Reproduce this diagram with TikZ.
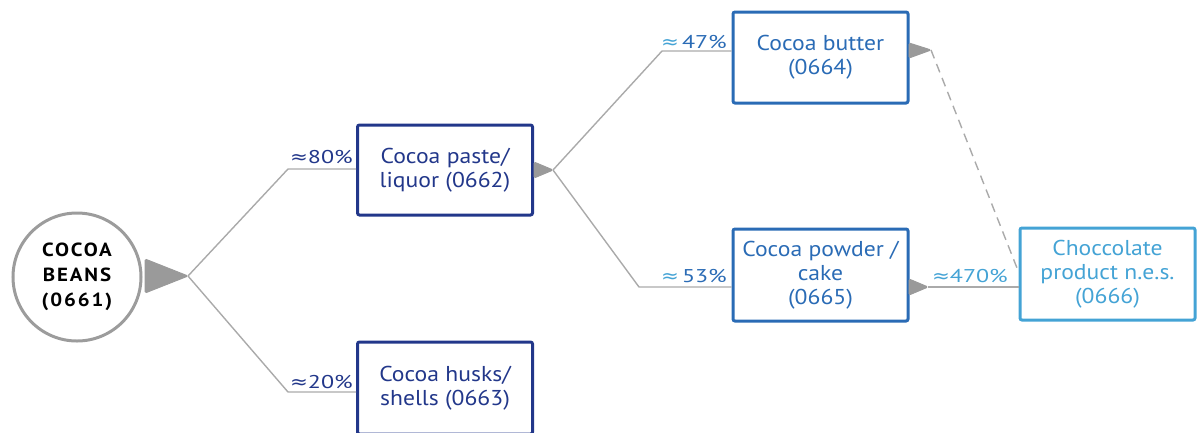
\documentclass[tikz,border=0pt]{standalone}
\usepackage{fontspec}
\setmainfont{PT Sans}
\newfontfamily\boxfont{PT Sans}[FakeStretch=1.1]
\newfontfamily\pctfont{PT Sans}[FakeStretch=1.3]
\newfontfamily\beanfont{PT Sans Bold}[FakeStretch=1.1, LetterSpace=10]
\newfontfamily\symfont{DejaVu Sans}[FakeStretch=1.15]
\newcommand{\apx}{{\symfont ≈}}
\usetikzlibrary{calc}
\definecolor{navy}{HTML}{22378A}
\definecolor{midblue}{HTML}{2A6BB5}
\definecolor{ltblue}{HTML}{44A3D5}
\definecolor{lnGray}{HTML}{AAAAAA}
\definecolor{triGray}{HTML}{9A9A9A}
\definecolor{circGray}{HTML}{9C9C9C}
\tikzset{
  prodbox/.style={draw, line width=3pt, rounded corners=2pt, minimum width=175pt, minimum height=91pt, align=center, font=\boxfont\fontsize{21.5}{24}\selectfont, inner sep=0pt},
  flow/.style={draw=lnGray, line width=1.4pt},
  dashflow/.style={draw=lnGray, line width=1.4pt, dash pattern=on 9pt off 6pt},
  tri/.style={fill=triGray, draw=triGray, line width=1pt, rounded corners=1.5pt},
  pct/.style={font=\pctfont\fontsize{18.5}{19}\selectfont, anchor=base east, inner sep=0pt},
}
\begin{document}
\begin{tikzpicture}[x=1pt,y=-1pt]
\useasboundingbox (0,0) rectangle (1198,432);
% source
\node[circle, draw=circGray, line width=3pt, minimum size=128pt, align=center, inner sep=0pt,
      font=\beanfont\fontsize{19}{25}\selectfont] (beans) at (77,277) {COCOA\\BEANS\\(0661)};
% boxes
\node[prodbox, draw=navy, text=navy, minimum height=90pt] (paste) at (445,170) {Cocoa paste/\\liquor (0662)};
\node[prodbox, draw=navy, text=navy, minimum height=92pt] (husks) at (445,388) {Cocoa husks/\\shells (0663)};
\node[prodbox, draw=midblue, text=midblue] (butter) at (820.5,57.5) {Cocoa butter\\(0664)};
\node[prodbox, draw=midblue, text=midblue, minimum height=92pt] (powder) at (820.5,275) {Cocoa powder /\\cake\\(0665)};
\node[prodbox, draw=ltblue, text=ltblue, minimum height=92pt] (choc) at (1107.5,274) {Choccolate\\product n.e.s.\\(0666)};
% junction coordinates
\coordinate (j1) at (188,276);
\coordinate (e1) at (288,169);
\coordinate (e2) at (288,392);
\coordinate (j2) at (553,170);
\coordinate (e3) at (662,51);
\coordinate (e4) at (639,287);
\coordinate (j3) at (931,50);
\coordinate (j4) at (928,287);
\coordinate (d4) at (1017,268);
% connectors
\draw[flow] (j1) -- (e1) -- (e1 -| paste.west);
\draw[flow] (j1) -- (e2) -- (e2 -| husks.west);
\draw[flow] (j2) -- (e3) -- (e3 -| butter.west);
\draw[flow] (j2) -- (e4) -- (e4 -| powder.west);
\draw[flow] (j4) -- (j4 -| choc.west);
\draw[dashflow] (j3) -- (d4);
% triangles
\filldraw[tri] (145,259) -- (j1) -- (145,293) -- cycle;
\filldraw[tri] (534,162) -- (j2) -- (534,178) -- cycle;
\filldraw[tri] (909,43) -- (j3) -- (909,58) -- cycle;
\filldraw[tri] (909,279) -- (j4) -- (909,295) -- cycle;
% labels
\node[pct, text=navy] (l80) at (353,163) {\apx80\%};
\node[pct, text=navy] (l20) at (353,388) {\apx20\%};
\node[pct, text=midblue] (l47) at (727,48) {\textcolor{ltblue}{\apx}\,47\%};
\node[pct, text=midblue] (l53) at (727,282) {\textcolor{ltblue}{\apx}\,53\%};
\node[pct, text=ltblue] (l470) at (1008,282) {\apx470\%};
\end{tikzpicture}
\end{document}
